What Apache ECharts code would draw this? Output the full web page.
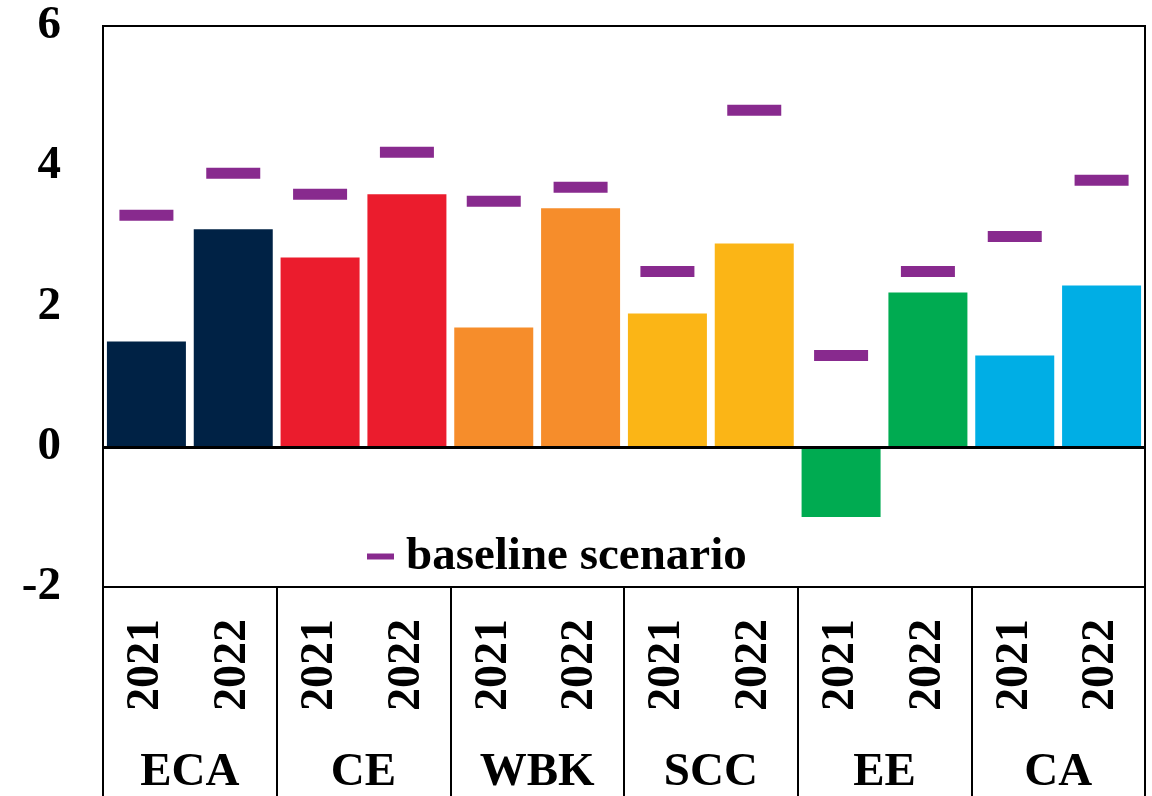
<!DOCTYPE html>
<html>
<head>
  <meta charset="UTF-8">
  <title>Growth 2021-2022 vs baseline</title>
  <script src="https://cdn.jsdelivr.net/npm/echarts/dist/echarts.min.js"></script>
  <style>
    html, body { margin: 0; padding: 0; background: #fff; }
    #main { width: 1152px; height: 796px; }
  </style>
</head>
<body>
  <div id="main"></div>
  <script>
    var groups = ['ECA', 'CE', 'WBK', 'SCC', 'EE', 'CA'];
    var years = ['2021', '2022'];
    var growth = [1.5, 3.1, 2.7, 3.6, 1.7, 3.4, 1.9, 2.9, -1.0, 2.2, 1.3, 2.3];
    var baseline = [3.3, 3.9, 3.6, 4.2, 3.5, 3.7, 2.5, 4.8, 1.3, 2.5, 3.0, 3.8];
    var yMin = -2, yMax = 6, yStep = 2;

    var groupColors = ['#002245', '#EB1C2D', '#F68D2B', '#FBB516', '#00AB51', '#00AEE5'];
    var font = 'Liberation Serif';

    // one category per group/year pair
    var categories = [];
    groups.forEach(function (g) {
      years.forEach(function (y) { categories.push(g + '|' + y); });
    });

    var barData = growth.map(function (v, i) {
      return { value: v, itemStyle: { color: groupColors[Math.floor(i / years.length)] } };
    });

    var chart = echarts.init(document.getElementById('main'));

    var option = {
      backgroundColor: '#fff',
      animation: false,
      grid: {
        left: 103, right: 7, top: 26, bottom: 208,
        show: true, borderColor: '#000', borderWidth: 2
      },
      legend: {
        data: ['baseline scenario'],
        left: 362,
        top: 528,
        icon: 'rect',
        itemWidth: 27,
        itemHeight: 6,
        itemStyle: { opacity: 1 },
        textStyle: {
          fontFamily: font, fontWeight: 'bold', fontSize: 47, color: '#000',
          padding: [0, 0, 0, 7]
        }
      },
      xAxis: [
        {
          type: 'category',
          data: categories,
          position: 'bottom',
          axisLine: { onZero: false, lineStyle: { color: '#000', width: 2 } },
          axisTick: { show: false },
          axisLabel: {
            interval: 0, rotate: 90, margin: 32,
            fontFamily: font, fontWeight: 'bold', fontSize: 46, color: '#000',
            formatter: function (v) { return v.split('|')[1]; }
          },
          splitLine: { show: false }
        },
        {
          type: 'category',
          data: groups,
          position: 'bottom',
          axisLine: { show: false, onZero: false },
          axisTick: { show: true, length: 212, lineStyle: { color: '#000', width: 2 } },
          axisLabel: {
            interval: 0, margin: 162,
            fontFamily: font, fontWeight: 'bold', fontSize: 47, color: '#000'
          },
          splitLine: { show: false }
        }
      ],
      yAxis: {
        type: 'value',
        min: yMin, max: yMax, interval: yStep,
        axisLine: { show: false },
        axisTick: { show: false },
        splitLine: { show: false },
        axisLabel: {
          margin: 42,
          fontFamily: font, fontWeight: 'bold', fontSize: 47, color: '#000'
        }
      },
      series: [
        {
          name: 'growth',
          type: 'bar',
          data: barData,
          barWidth: 79,
          markLine: {
            silent: true,
            symbol: 'none',
            label: { show: false },
            lineStyle: { color: '#000', type: 'solid', width: 3 },
            data: [{ yAxis: 0 }]
          }
        },
        {
          name: 'baseline scenario',
          type: 'scatter',
          data: baseline,
          symbol: 'rect',
          symbolSize: [54, 11],
          itemStyle: { color: '#882A8E', opacity: 1 },
          z: 5
        }
      ]
    };

    chart.setOption(option);
  </script>
</body>
</html>
